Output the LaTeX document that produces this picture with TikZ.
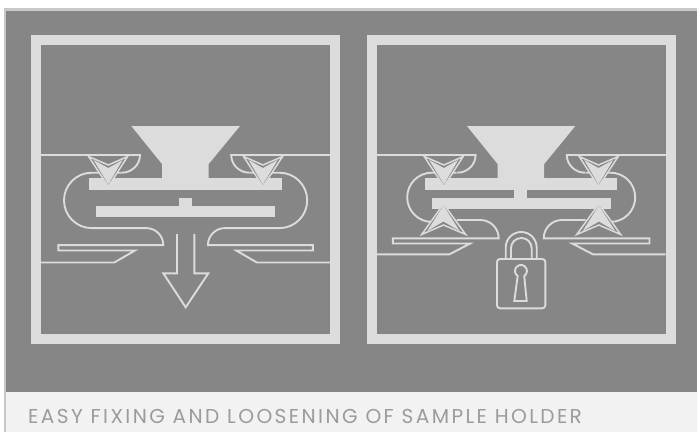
\documentclass[tikz,border=0pt]{standalone}
\usepackage{xcolor}
\usepackage{fontspec}
\newfontfamily\piefont[LetterSpace=12]{Poppins}
\usepackage{tikz}
\definecolor{panelgris}{RGB}{134,134,134}
\definecolor{clarogris}{RGB}{220,220,220}
\definecolor{bordegris}{RGB}{200,200,200}
\definecolor{piegris}{RGB}{242,242,242}
\definecolor{textogris}{RGB}{155,155,155}
\tikzset{
    lineaclara/.style={draw=clarogris,line width=1.9pt},
    puntaclara/.style={draw=clarogris,fill=panelgris,line width=1.5pt,miter limit=20},
}
% upper clamp of one half: top line, crescent and the plate's arrow head
\newcommand{\mordazaarriba}{%
    \draw[lineaclara] (-144.6,155)--(-45.6,155) arc[start angle=0,end angle=-90,x radius=18.3pt,y radius=17.7pt];
    \draw[puntaclara] (-97,156.5)--(-77.3,165)--(-58,156.5)--(-77.3,186.5)--cycle;
    \fill[clarogris] (-92,160)--(-77.3,168)--(-63,160)--(-77.3,184.5)--cycle;
}
\begin{document}
\begin{tikzpicture}[x=1pt,y=-1pt]
    \useasboundingbox (0,0) rectangle (697,432);
    \fill[white] (0,0) rectangle (697,432);
    \fill[bordegris] (3.5,8) rectangle (697,432);
    \fill[panelgris] (6,11) rectangle (697,392);
    \fill[piegris] (5.5,392) rectangle (697,432);
    \node[anchor=base west,inner sep=0pt,textogris,font=\piefont\fontsize{20.1}{20}\selectfont] (pie) at (28,423) {EASY FIXING AND LOOSENING OF SAMPLE HOLDER};
    \draw[clarogris,line width=10pt] (36,40) rectangle (335,339);
    \draw[clarogris,line width=10pt] (371.5,40) rectangle (671,339);
    % left figure: holder falls out
    \begin{scope}[shift={(185.6,0)}]
        \fill[clarogris] (-54.3,126)--(54.4,126)--(23.1,164)--(23.1,178)--(-23.6,178)--(-23.6,164)--cycle;
        \fill[clarogris] (-96.3,178) rectangle (96.1,190);
        \fill[clarogris] (-89.6,206) rectangle (89.7,216.7);
        \fill[clarogris] (-6.6,197.7) rectangle (6.4,206);
        \foreach \lado in {1,-1}{
            \begin{scope}[xscale=\lado]
                \draw[lineaclara] (-63.9,172.7)--(-93.9,172.7) arc[start angle=90,end angle=270,radius=27.7pt]--(-39.3,228.1) arc[start angle=90,end angle=0,radius=17pt]--(-127.3,245.1)--(-127.3,250.5)--(-50.6,250.5)--(-71.3,262.5)--(-144.6,262.5);
                \mordazaarriba
            \end{scope}
        }
        \draw[lineaclara,miter limit=20] (-8.6,234)--(-8.6,273.3)--(-22.3,273.3)--(0.1,307.3)--(22.7,273.3)--(8.7,273.3)--(8.7,234);
    \end{scope}
    % right figure: holder locked
    \begin{scope}[shift={(521.2,0)}]
        \fill[clarogris] (-54.2,126)--(54.1,126)--(23,164)--(23,178)--(-23.6,178)--(-23.6,164)--cycle;
        \fill[clarogris] (-96.2,178) rectangle (96.1,190);
        \fill[clarogris] (-89.5,198.3) rectangle (89.5,209.3);
        \fill[clarogris] (-6.9,190) rectangle (6.1,198.3);
        \foreach \lado in {1,-1}{
            \begin{scope}[xscale=\lado]
                \draw[lineaclara] (-64.5,172.7)--(-89.4,172.7) arc[start angle=90,end angle=270,radius=24.6pt]--(-72,221.9);
                \draw[lineaclara] (-64.5,220)--(-40.8,220) arc[start angle=90,end angle=0,x radius=18.3pt,y radius=18.3pt]--(-128.3,238.3)--(-128.3,243.5)--(-51,243.5)--(-71.7,254.3)--(-144.5,254.3);
                \mordazaarriba
                \draw[puntaclara] (-99.5,234.5)--(-77.7,225)--(-55.5,234.5)--(-77.7,204)--cycle;
                \fill[clarogris] (-94,231)--(-77.7,221.5)--(-61.5,231)--(-77.7,205.5)--cycle;
            \end{scope}
        }
    \end{scope}
    % padlock
    \draw[lineaclara,rounded corners=3pt] (497,259) rectangle (545.3,308.3);
    \draw[lineaclara] (505.7,258.3)--(505.7,247.5) arc[start angle=180,end angle=0,radius=15.5pt]--(536.7,258.3);
    \draw[lineaclara] (511,258.3)--(511,248.3) arc[start angle=180,end angle=0,radius=10.35pt]--(531.7,258.3);
    \draw[lineaclara] (517.7,276) arc[start angle=237,end angle=-57,radius=6pt]--(526.7,301)--(514.3,301)--cycle;
\end{tikzpicture}
\end{document}
